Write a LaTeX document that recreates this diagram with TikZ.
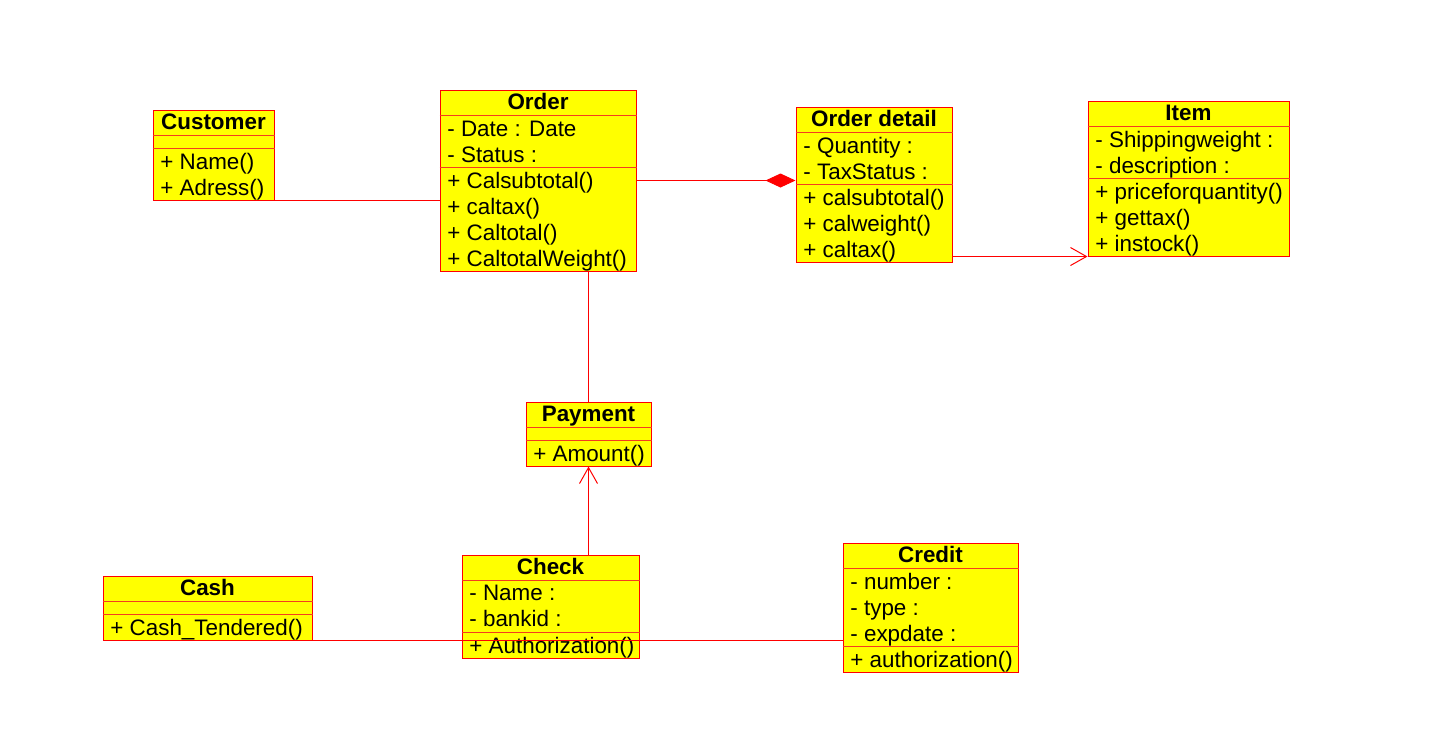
\documentclass[tikz,border=0pt]{standalone}
\usepackage{fontspec}
\setmainfont{Liberation Sans}
\usetikzlibrary{arrows.meta}
\usetikzlibrary{fit}

\definecolor{umlfill}{RGB}{255,255,0}
\definecolor{umlline}{RGB}{255,0,0}
\definecolor{umlrule}{RGB}{245,60,30}

\begin{document}
\begin{tikzpicture} [
        x = 0.5pt,
        y = -0.5pt,
        every node/.style = {
          inner sep = 0pt,
          font = \fontsize{11.2}{13}\selectfont,
        },
        umlbox/.style = {
          draw = umlline,
          fill = umlfill,
          line width = 0.5pt,
        },
        title/.style = {
          anchor = base,
          font = \fontsize{11.2}{13}\selectfont\bfseries,
        },
        members/.style = {
          anchor = north west,
          align = left,
        },
        divider/.style = {
          draw = umlrule,
          line width = 0.5pt,
        },
        assoc/.style = {
          draw = umlline,
          line width = 0.5pt,
        },
        navigate/.style = {
          assoc,
          -{Straight Barb[length = 8pt, width = 9pt]},
        },
        composition/.style = {
          assoc,
          -{Diamond[length = 15pt, width = 7pt]},
        },
      ]

    \useasboundingbox (0,0) rectangle (1456,730);

    % class boxes
    \node [umlbox, fit={(153,110) (274,200)}] (customer) {};
    \node [umlbox, fit={(440,90) (636,271)}] (order) {};
    \node [umlbox, fit={(796,107) (952,262)}] (orderDetail) {};
    \node [umlbox, fit={(1088,101) (1289,256)}] (item) {};
    \node [umlbox, fit={(526,402) (651,466)}] (payment) {};
    \node [umlbox, fit={(462,555) (639,658)}] (check) {};
    \node [umlbox, fit={(103,576) (312,640)}] (cash) {};
    \node [umlbox, fit={(843,543) (1018,672)}] (credit) {};

    % compartments
    \foreach \cls/\ops in {customer/2, order/4, orderDetail/3, item/3,
                           payment/1, check/1, cash/1, credit/1} {
      \draw[divider] ([yshift=-13pt]\cls.north west) -- ([yshift=-13pt]\cls.north east);
      \draw[divider] ([yshift={\ops*13pt}]\cls.south west) -- ([yshift={\ops*13pt}]\cls.south east);
    }

    % textboxes
    \node [title] (customerName) at ([yshift=-10pt]customer.north) {Customer};
    \node [members] (customerOps) at (160,153) {+ Name()\\+ Adress()};

    \node [title] (orderName) at ([yshift=-10pt]order.north) {Order};
    \node [members] (orderAttr) at (447,121) {- Date : Date\\- Status :};
    \node [members] (orderOps) at (447,172) {+ Calsubtotal()\\+ caltax()\\+ Caltotal()\\+ CaltotalWeight()};

    \node [title] (orderDetailName) at ([yshift=-10pt]orderDetail.north) {Order detail};
    \node [members] (orderDetailAttr) at (803,137) {- Quantity :\\- TaxStatus :};
    \node [members] (orderDetailOps) at (803,189) {+ calsubtotal()\\+ calweight()\\+ caltax()};

    \node [title] (itemName) at ([yshift=-10pt]item.north) {Item};
    \node [members] (itemAttr) at (1095,131) {- Shippingweight :\\- description :};
    \node [members] (itemOps) at (1095,183) {+ priceforquantity()\\+ gettax()\\+ instock()};

    \node [title] (paymentName) at ([yshift=-10pt]payment.north) {Payment};
    \node [members] (paymentOps) at (533,445) {+ Amount()};

    \node [title] (checkName) at ([yshift=-10pt]check.north) {Check};
    \node [members] (checkAttr) at (469,585) {- Name :\\- bankid :};
    \node [members] (checkOps) at (469,637) {+ Authorization()};

    \node [title] (cashName) at ([yshift=-10pt]cash.north) {Cash};
    \node [members] (cashOps) at (110,619) {+ Cash\_Tendered()};

    \node [title] (creditName) at ([yshift=-10pt]credit.north) {Credit};
    \node [members] (creditAttr) at (850,573) {- number :\\- type :\\- expdate :};
    \node [members] (creditOps) at (850,651) {+ authorization()};

    % connections
    \draw[assoc] (customer.south east) -- (customer.south east -| order.west);
    \draw[composition] (order.east) -- (order.east -| orderDetail.west);
    \draw[navigate] (item.south west -| orderDetail.east) -- (item.south west);
    \draw[assoc] (payment.north |- order.south) -- (payment.north);
    \draw[navigate] (payment.south |- check.north) -- (payment.south);
    \draw[assoc] (cash.south east) -- (cash.south east -| credit.west);
  \end{tikzpicture}
\end{document}
